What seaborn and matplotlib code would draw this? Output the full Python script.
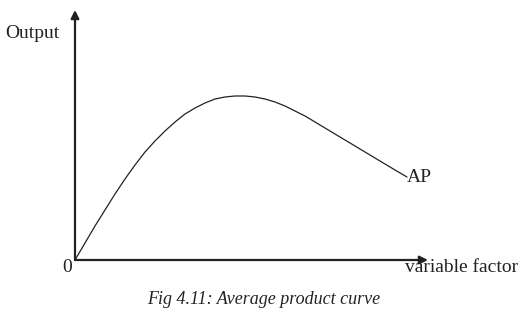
import seaborn as sns
import pandas as pd
import matplotlib.pyplot as plt

# average product curve
variable_factor = [0, 10, 20, 30, 40, 50, 60, 70, 80, 90, 100, 110, 120, 130, 140, 150, 160,
                   170, 180, 190, 200, 210, 220, 230, 240, 250, 260, 270, 280, 290, 300, 310, 320, 332]
output = [0, 17, 34, 50, 66, 81, 95, 108, 119, 129, 138, 146, 152, 157, 161, 163, 164,
          164, 163, 161, 158, 154, 149, 144, 138, 132, 126, 120, 114, 108, 102, 96, 90, 83]

x_max = 353
y_max = 250

df = pd.DataFrame({"variable factor": variable_factor, "Output": output})

sns.set_style("white")
plt.rcParams["font.family"] = ["Liberation Serif", "DejaVu Serif"]

fig = plt.figure(figsize=(5.22, 3.2), dpi=100)
ax = fig.add_axes([75 / 522, 60 / 320, x_max / 522, y_max / 320])

sns.lineplot(x="variable factor", y="Output", data=df, color="#222222", linewidth=0.9, ax=ax)

ax.set_xlim(0, x_max)
ax.set_ylim(0, y_max)
for s in ax.spines.values():
    s.set_visible(False)
ax.set_xticks([])
ax.set_yticks([])
ax.set_xlabel("")
ax.set_ylabel("")

# axes with arrow heads
arrow = dict(arrowstyle="-|>", color="#222222", lw=1.6, mutation_scale=12, shrinkA=0, shrinkB=0)
ax.annotate("", xy=(0, y_max), xytext=(0, 0), arrowprops=arrow, annotation_clip=False)
ax.annotate("", xy=(x_max, 0), xytext=(0, 0), arrowprops=arrow, annotation_clip=False)

ax.text(-70, 227, "Output", fontsize=14, color="#222222", va="center", ha="left")
ax.text(-8, -8, "0", fontsize=14, color="#222222", va="center", ha="center")
ax.text(330, -8, "variable factor", fontsize=14, color="#222222", va="center", ha="left")
ax.text(variable_factor[-1], output[-1], "AP", fontsize=14, color="#222222", va="center", ha="left")

fig.text(264 / 522, 21 / 320, "Fig 4.11: Average product curve",
         fontsize=13, style="italic", color="#222222", ha="center", va="center")

fig.savefig("out.png", dpi=100)
